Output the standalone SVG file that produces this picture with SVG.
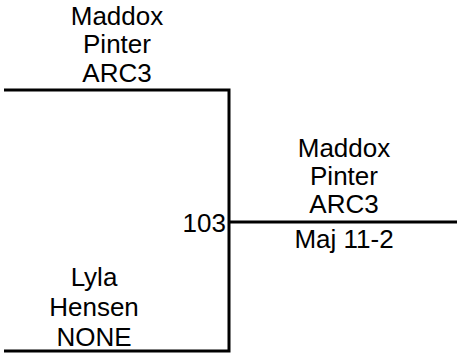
<svg xmlns="http://www.w3.org/2000/svg" width="457" height="355" viewBox="0 0 457 355">
<style>
text{font-family:"Liberation Sans",Arial,sans-serif;font-size:26px;fill:#000;text-anchor:middle}
.ln{stroke:#000;stroke-width:3;fill:none}
</style>
<rect width="457" height="355" fill="#fff"/>
<g id="connectors">
<path class="ln" d="M4,90 H229 V351 H4"/>
<path class="ln" d="M229,222 H457"/>
</g>
<g id="player-top">
<text x="117" y="25">Maddox</text>
<text x="117" y="53">Pinter</text>
<text x="117" y="82">ARC3</text>
</g>
<g id="player-bottom">
<text x="94" y="286">Lyla</text>
<text x="94" y="316">Hensen</text>
<text x="94" y="346">NONE</text>
</g>
<g id="match">
<text x="226" y="232" style="text-anchor:end">103</text>
</g>
<g id="winner">
<text x="344" y="157">Maddox</text>
<text x="344" y="185">Pinter</text>
<text x="344" y="213">ARC3</text>
<text x="344" y="248">Maj 11-2</text>
</g>
</svg>
